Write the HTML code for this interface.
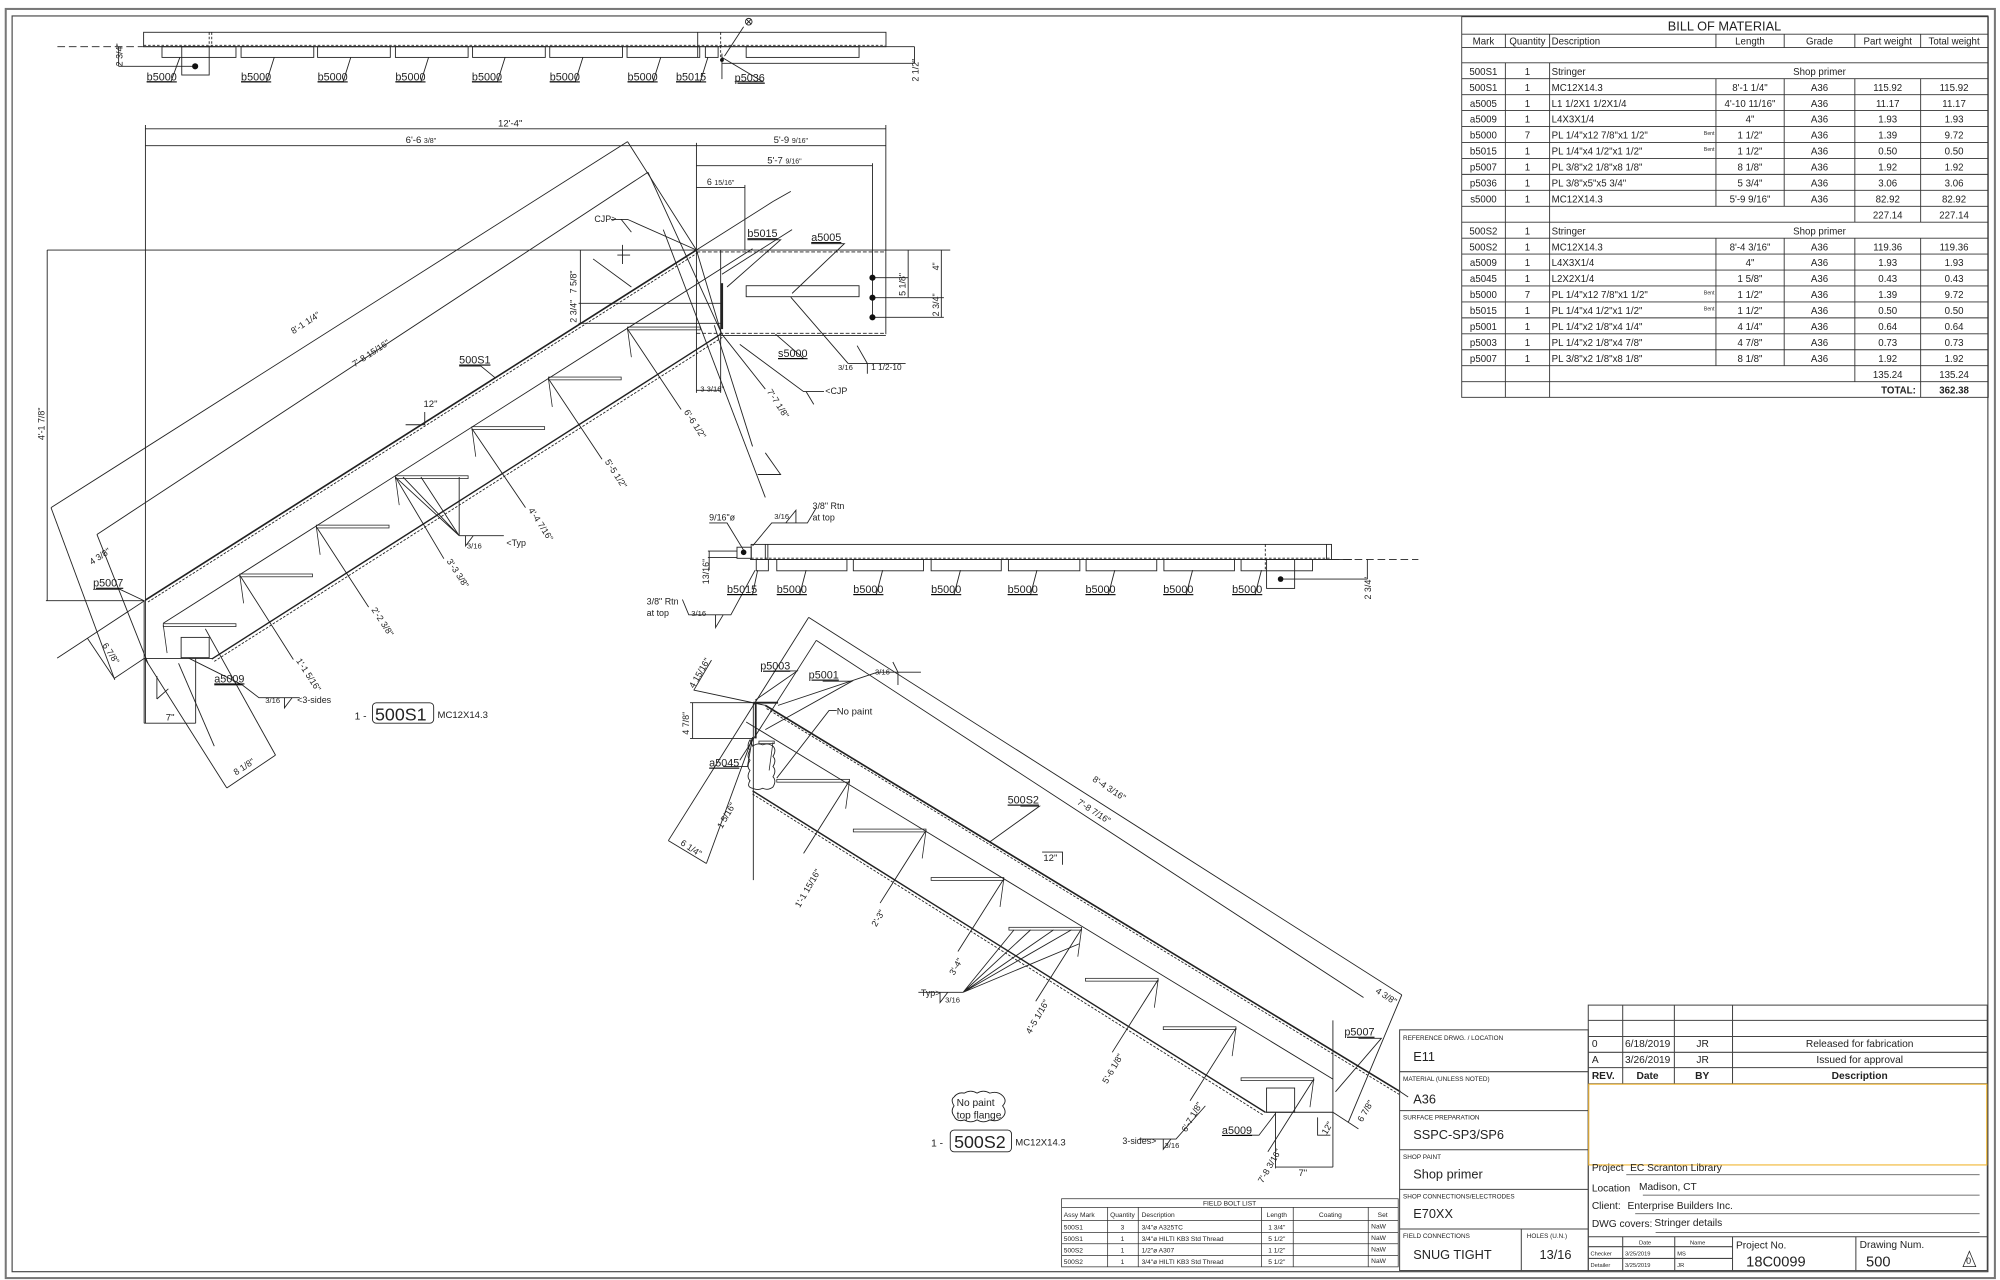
<!DOCTYPE html>
<html><head><meta charset="utf-8"><style>
html,body{margin:0;padding:0;background:#fff;}
svg{display:block;}
text{font-family:"Liberation Sans",Arial,sans-serif;fill:#222;}
</style></head><body>
<svg width="2000" height="1280" viewBox="0 0 1568 1003.5" xmlns="http://www.w3.org/2000/svg">
<rect x="0" y="0" width="1568" height="1003.5" fill="#fff"/>
<!-- borders -->
<rect x="4.5" y="7" width="1559.5" height="995" fill="none" stroke="#777" stroke-width="1.6"/>
<rect x="9.5" y="12.5" width="1549" height="984.5" fill="none" stroke="#444" stroke-width="0.9"/>

<g stroke="#222" stroke-width="0.7" fill="none">
<!-- ===== TOP STRIP ===== -->
<rect x="112.6" y="25.3" width="582" height="11.3"/>
<line x1="45" y1="36.6" x2="112" y2="36.6" stroke-dasharray="6,3"/>
<line x1="112" y1="36.6" x2="717" y2="36.6"/>
<line x1="112.6" y1="35.5" x2="694" y2="35.5" stroke-dasharray="2,1.5"/>
<line x1="164" y1="25.3" x2="164" y2="36.6" stroke-dasharray="2,1.5"/>
<line x1="166" y1="25.3" x2="166" y2="36.6" stroke-dasharray="2,1.5"/>
<line x1="547" y1="25.3" x2="547" y2="45"/>
<line x1="565" y1="25.3" x2="565" y2="45" stroke-dasharray="2,1.5"/>
<rect x="127" y="36.6" width="58" height="8.4"/><rect x="189" y="36.6" width="57" height="8.4"/>
<rect x="249" y="36.6" width="57" height="8.4"/><rect x="310" y="36.6" width="57" height="8.4"/>
<rect x="370.5" y="36.6" width="57" height="8.4"/><rect x="431" y="36.6" width="57" height="8.4"/>
<rect x="491.6" y="36.6" width="57" height="8.4"/><rect x="553" y="36.6" width="10" height="8.4"/>
<rect x="585" y="36.6" width="88.5" height="8.4"/>
<rect x="142.5" y="36.6" width="21.5" height="22.2"/>
<line x1="93" y1="36.6" x2="93" y2="52"/><line x1="93" y1="52" x2="153" y2="52"/>
<line x1="566" y1="49.6" x2="717" y2="49.6"/><line x1="717" y1="36.6" x2="717" y2="49.6"/>
<line x1="566" y1="42" x2="566" y2="62"/>
<circle cx="587" cy="17" r="2.6"/><line x1="585" y1="15" x2="589" y2="19"/><line x1="589" y1="15" x2="585" y2="19"/>
<line x1="583" y1="21" x2="568" y2="44"/>
<!-- leaders -->
<path d="M115,64 H134 L141,45"/><path d="M189,64 H209 L215,45"/><path d="M249,64 H269 L275,45"/>
<path d="M310,64 H330 L336,45"/><path d="M370,64 H390 L396,45"/><path d="M431,64 H451 L457,45"/>
<path d="M492,64 H512 L518,45"/><path d="M530,64 H549 L555,45"/><path d="M576,64 H598 L566,45"/>

<!-- ===== 500S1 main view ===== -->
<line x1="114" y1="101" x2="694.5" y2="101"/>
<line x1="114" y1="114.2" x2="694.5" y2="114.2"/>
<line x1="546" y1="129.9" x2="684" y2="129.9"/>
<line x1="546" y1="147" x2="584" y2="147"/>
<line x1="114" y1="98" x2="114" y2="567"/>
<line x1="694.5" y1="98" x2="694.5" y2="196"/>
<line x1="546" y1="112" x2="546" y2="308"/>
<line x1="684" y1="128" x2="684" y2="249"/>
<line x1="584" y1="145" x2="584" y2="196"/>
<line x1="565" y1="196" x2="565" y2="308"/>
<line x1="546" y1="306" x2="565" y2="306"/>
<line x1="37" y1="196" x2="745" y2="196"/>
<line x1="37" y1="196" x2="37" y2="471"/>
<line x1="36" y1="470.9" x2="113" y2="470.9"/>
<line x1="546" y1="197.5" x2="694.5" y2="197.5" stroke-dasharray="3,1.5"/>
<line x1="546" y1="261.3" x2="694.5" y2="261.3" stroke-dasharray="3,1.5"/>
<line x1="565" y1="263" x2="694.5" y2="263"/>
<line x1="694.5" y1="196" x2="694.5" y2="262"/>
<rect x="585" y="224" width="88.5" height="8.6"/>
<line x1="684" y1="217.7" x2="712" y2="217.7"/><line x1="684" y1="233.4" x2="740" y2="233.4"/><line x1="684" y1="248.8" x2="740" y2="248.8"/>
<line x1="712" y1="196" x2="712" y2="233"/><line x1="738" y1="196" x2="738" y2="249"/>
<line x1="453.6" y1="237.8" x2="565" y2="237.8"/><line x1="453.6" y1="253.5" x2="565" y2="253.5"/>
<line x1="455" y1="196" x2="455" y2="253.5"/>
<!-- stringer lines -->
<line x1="40" y1="398" x2="492" y2="111"/>
<line x1="76" y1="419" x2="508" y2="135"/>
<line x1="492" y1="111" x2="546" y2="196"/>
<line x1="508" y1="135" x2="566" y2="262"/>
<line x1="114" y1="470.4" x2="546" y2="196" stroke-width="1.3"/>
<line x1="116" y1="472" x2="548" y2="197.5" stroke-dasharray="2,1.2"/>
<line x1="128" y1="488.6" x2="590" y2="195"/>
<line x1="166" y1="516.7" x2="565" y2="262" stroke-width="1.1"/>
<line x1="168" y1="518.5" x2="567" y2="264" stroke-dasharray="2,1.2"/>
<line x1="44.8" y1="516" x2="113.4" y2="470.9"/>
<line x1="546" y1="196" x2="606" y2="158"/>
<line x1="606" y1="158" x2="620" y2="150"/>
<line x1="566" y1="215" x2="621" y2="180"/>
<line x1="40" y1="398" x2="90" y2="533"/>
<line x1="76" y1="419" x2="116" y2="520"/>
<line x1="68.6" y1="500.5" x2="89.6" y2="531.8"/>
<line x1="89.6" y1="531.8" x2="113.4" y2="516"/>
<line x1="113.4" y1="516" x2="177.8" y2="617.8"/>
<line x1="161" y1="493" x2="216" y2="592"/>
<line x1="177.8" y1="617.8" x2="216" y2="592"/>
<!-- end plate -->
<line x1="546" y1="196" x2="565.7" y2="262"/>
<line x1="600" y1="390" x2="520" y2="180"/>
<line x1="560" y1="255" x2="590" y2="350"/>
<line x1="566" y1="222" x2="566" y2="258" stroke-width="1.8"/>
<!-- bottom -->
<line x1="113" y1="470.9" x2="113" y2="567"/>
<line x1="113" y1="516.2" x2="166.6" y2="516.2"/>
<rect x="142" y="499.7" width="22" height="15.9"/>
<line x1="113" y1="567" x2="153.4" y2="567"/>
<line x1="153.4" y1="516" x2="153.4" y2="567"/>
<line x1="123" y1="530" x2="123" y2="548"/><line x1="123" y1="548" x2="132" y2="540"/>
<line x1="140" y1="520" x2="168" y2="585"/>
<!-- treads 500S1 -->
<g stroke-width="0.6">
<rect x="128" y="489" width="57" height="2.2"/><rect x="188" y="450" width="57" height="2.2"/>
<rect x="248" y="411.7" width="57" height="2.2"/><rect x="310" y="373" width="57" height="2.2"/>
<rect x="370" y="334.5" width="57" height="2.2"/><rect x="430" y="295.6" width="57" height="2.2"/>
<rect x="492" y="256.4" width="57" height="2.2"/>
<path d="M128,490 l3,22 M188,451 l3,22 M248,413 l3,22 M310,374 l3,22 M370,336 l3,22 M430,297 l3,22 M492,258 l3,22"/>
</g>
<path d="M188,451 L230,517 M248,413 L289,476 M310,374 L348,438 M370,336 L412,398 M430,297 L472,360 M492,258 L534,321 M566,262 L600,305"/>
<path d="M310,374 L360,420 M316,374 L360,420 M330,374 L360,420 M360,374 L360,420 M360,420 H395"/>
<path d="M365,420 l0,8 l6,-8"/>
<!-- slope triangle -->
<path d="M318,333 H333 V323"/>
<path d="M600,355 L612,372 L594,372"/>
<!-- leaders/welds 500S1 -->
<path d="M360,287 H377 L388,296"/>
<path d="M73,462 H94 L113,471"/>
<path d="M168,537 H190 L148,516"/>
<path d="M190,537 L203,547 H235"/><path d="M223,547 v8 l6,-8"/>
<path d="M479,172 H492 L546,196"/><path d="M487,172 l8,10"/>
<path d="M586,188 H612 L570,225"/>
<path d="M636,191 H662 L621,230"/>
<path d="M610,281 H630 L608,262"/>
<path d="M665,285 H710 M680,285 l-8,-14 l8,14 M680,285 v8 M665,285 L620,233"/>
<path d="M646,307 H630 L580,270"/><path d="M632,307 l6,10"/>
<path d="M465,203 l30,22 M488,192 v15 M484,200 h10"/>
<!-- 500S1 tag -->
<rect x="292" y="551" width="48" height="16" rx="3"/>

<!-- ===== middle elevation ===== -->
<rect x="588.9" y="426.8" width="455" height="11.8"/>
<line x1="588.9" y1="437.6" x2="1044" y2="437.6" stroke-dasharray="2,1.5"/>
<line x1="1044" y1="438.6" x2="1112" y2="438.6" stroke-dasharray="6,3"/>
<line x1="588" y1="438.6" x2="1060" y2="438.6"/>
<line x1="600" y1="426.8" x2="600" y2="438.6"/><line x1="602" y1="426.8" x2="602" y2="438.6"/>
<line x1="992" y1="426.8" x2="992" y2="447" stroke-dasharray="2,1.5"/>
<line x1="1040" y1="426.8" x2="1040" y2="438.6"/>
<rect x="577.8" y="429" width="11.2" height="8.7"/>
<rect x="592.9" y="438.6" width="9.5" height="8.9"/><rect x="609" y="438.6" width="55" height="8.9"/>
<rect x="669" y="438.6" width="55" height="8.9"/><rect x="730" y="438.6" width="55" height="8.9"/>
<rect x="790.6" y="438.6" width="56" height="8.9"/><rect x="851.5" y="438.6" width="55.4" height="8.9"/>
<rect x="912.5" y="438.6" width="55.3" height="8.9"/><rect x="973" y="438.6" width="56" height="8.9"/>
<rect x="993" y="438.6" width="22" height="22.7"/>
<line x1="1004" y1="454" x2="1072" y2="454"/><line x1="1072" y1="438.6" x2="1072" y2="454"/>
<line x1="555" y1="437" x2="578" y2="437"/><line x1="555" y1="432" x2="578" y2="432"/><line x1="556" y1="432" x2="556" y2="447"/>
<path d="M556,410 H570 L584,433"/>
<path d="M640,398 L633,410 H605 L590,428"/><path d="M624,410 v-10 l-8,10"/>
<path d="M535,470 L540,482 H573 L592,447"/><path d="M561,482 v10 l6,-10"/>
<path d="M570,466 H590 L594,447 M609,466 H627 L632,447 M669,466 H687 L692,447 M730,466 H748 L753,447 M790,466 H808 L813,447 M851,466 H869 L874,447 M912,466 H930 L935,447 M966,466 H984 L989,447"/>

<!-- ===== 500S2 view ===== -->
<line x1="634" y1="484" x2="1099" y2="780"/>
<line x1="640" y1="502" x2="1069" y2="782"/>
<line x1="600" y1="553" x2="1098" y2="856" stroke-width="1.3"/>
<line x1="601" y1="555.5" x2="1097" y2="858" stroke-dasharray="2,1.2"/>
<line x1="585" y1="566" x2="1045" y2="846"/>
<line x1="590" y1="620" x2="992" y2="872" stroke-width="1.1"/>
<line x1="590" y1="622.5" x2="990" y2="874" stroke-dasharray="2,1.2"/>
<line x1="634" y1="484" x2="524" y2="659"/>
<line x1="640" y1="502" x2="580" y2="596"/>
<line x1="557.8" y1="517.5" x2="544" y2="541"/>
<line x1="543.8" y1="541" x2="600" y2="553"/>
<line x1="524" y1="659" x2="553.8" y2="677"/>
<line x1="590" y1="578" x2="553.8" y2="677"/>
<line x1="541" y1="550.9" x2="590.6" y2="550.9"/><line x1="541" y1="578.9" x2="590.6" y2="578.9"/>
<line x1="543" y1="550.9" x2="543" y2="578.9"/>
<line x1="590.6" y1="550.9" x2="590.6" y2="690"/>
<line x1="592.5" y1="550.9" x2="592.5" y2="578.9" stroke-width="1.4"/>
<line x1="590.6" y1="550.9" x2="610" y2="550.9" stroke-width="1.4"/>
<path d="M588,580 q-3,5 0,8 q-3,5 0,8 q-3,5 0,8 q-3,5 0,8 q-3,5 2,6 q4,2 8,0 q4,2 8,-1 q3,-5 0,-8 q3,-5 0,-8 q3,-5 0,-8 q3,-5 0,-8 q-4,-3 -8,-1 q-4,-2 -8,1z"/>
<!-- treads 500S2 -->
<g stroke-width="0.6">
<rect x="609" y="611" width="57" height="2.2"/><rect x="669" y="650" width="57" height="2.2"/>
<rect x="730" y="688" width="57" height="2.2"/><rect x="791" y="727" width="57" height="2.2"/>
<rect x="851" y="767" width="57" height="2.2"/><rect x="912" y="805" width="57" height="2.2"/>
<rect x="973" y="845" width="57" height="2.2"/><rect x="595" y="581" width="12" height="2"/>
<path d="M666,612 l-3,22 M726,651 l-3,22 M787,689 l-3,22 M848,728 l-3,22 M908,768 l-3,22 M969,806 l-3,22 M1030,846 l-3,22 M606,582 l-3,22"/>
</g>
<path d="M666,612 L630,669 M726,651 L690,708 M787,689 L751,746 M848,728 L812,785 M908,768 L872,825 M969,806 L933,863 M1030,846 L994,903"/>
<path d="M755,778 L795,729 M755,778 L808,729 M755,778 L826,729 M755,778 L840,729 M755,778 L846,740 M755,778 H720"/>
<path d="M737,778 v8 l6,-8"/>
<!-- end 500S2 -->
<line x1="1045" y1="800" x2="1045" y2="915"/>
<line x1="992" y1="872" x2="1045" y2="872"/>
<rect x="993" y="853" width="22" height="19"/>
<line x1="1000" y1="872" x2="1000" y2="916"/>
<line x1="1000" y1="915" x2="1045" y2="915"/>
<line x1="1099" y1="780" x2="1057" y2="880"/>
<line x1="1045" y1="872" x2="1065" y2="885"/>
<line x1="1098" y1="856" x2="1104" y2="860"/>
<path d="M1033,876 v14 h10"/>
<path d="M800,632 H815 L776,660"/>
<path d="M817,668 H833 V678"/>
<path d="M606,526 H625 L592,549"/>
<path d="M645,534 H668 L600,572"/>
<path d="M688,527 H722 M704,527 L700,519 L704,527 M704,527 v10"/>
<path d="M688,527 L610,553"/>
<path d="M656,557 H650 L609,610"/>
<path d="M567,601 H586 L590,578"/>
<path d="M1065,814 H1083 L1047,856"/>
<path d="M969,890 H987 L1000,873"/>
<path d="M893,893 H922 L945,867 M912,893 v8 l6,-8"/>
<path d="M748,860 q3,-4 8,-3 q5,-3 10,0 q5,-3 10,0 q6,-2 10,2 q4,4 0,8 q4,5 0,9 q-4,4 -10,2 q-5,3 -10,0 q-5,3 -10,0 q-6,2 -8,-3 q-3,-4 0,-8 q-3,-5 0,-7z"/>
<rect x="745" y="886" width="48" height="17" rx="3"/>
</g>

<!-- fills -->
<g fill="#111">
<circle cx="153" cy="52" r="2.4"/><circle cx="684" cy="217.7" r="2.4"/><circle cx="684" cy="233.4" r="2.4"/><circle cx="684" cy="248.8" r="2.4"/>
<circle cx="583" cy="433" r="2.2"/><circle cx="1004" cy="454" r="2.2"/><circle cx="566" cy="47" r="1.5"/>
</g>

<!-- labels -->
<g font-size="8.5">
<g text-decoration="underline">
<text x="115" y="63">b5000</text><text x="189" y="63">b5000</text><text x="249" y="63">b5000</text><text x="310" y="63">b5000</text>
<text x="370" y="63">b5000</text><text x="431" y="63">b5000</text><text x="492" y="63">b5000</text><text x="530" y="63">b5015</text><text x="576" y="64">p5036</text>
<text x="360" y="285">500S1</text><text x="586" y="186">b5015</text><text x="636" y="189">a5005</text><text x="610" y="280">s5000</text>
<text x="73" y="460">p5007</text><text x="168" y="535">a5009</text>
<text x="570" y="465">b5015</text><text x="609" y="465">b5000</text><text x="669" y="465">b5000</text><text x="730" y="465">b5000</text><text x="790" y="465">b5000</text><text x="851" y="465">b5000</text><text x="912" y="465">b5000</text><text x="966" y="465">b5000</text>
<text x="596" y="525">p5003</text><text x="634" y="532">p5001</text><text x="556" y="601">a5045</text><text x="790" y="630">500S2</text>
<text x="1054" y="812">p5007</text><text x="958" y="889">a5009</text>
</g>
<text x="400" y="99" font-size="7.5" text-anchor="middle">12'-4"</text>
<text x="330" y="112" font-size="7.5" text-anchor="middle">6'-6 <tspan font-size="5.5">3/8"</tspan></text>
<text x="620" y="112" font-size="7.5" text-anchor="middle">5'-9 <tspan font-size="5.5">9/16"</tspan></text>
<text x="615" y="128" font-size="7.5" text-anchor="middle">5'-7 <tspan font-size="5.5">9/16"</tspan></text>
<text x="565" y="145" font-size="7" text-anchor="middle">6 <tspan font-size="5.5">15/16"</tspan></text>
<text x="332" y="319" font-size="7.5">12"</text>
<text x="466" y="174" font-size="7">CJP&gt;</text><text x="647" y="309" font-size="7">&lt;CJP</text>
<text x="657" y="290" font-size="6">3/16</text><text x="683" y="290" font-size="6.5">1 1/2-10</text>
<text x="366" y="430" font-size="6">3/16</text><text x="397" y="428" font-size="7">&lt;Typ</text>
<text x="208" y="551" font-size="6">3/16</text><text x="233" y="551" font-size="7">&lt;3-sides</text>
<text x="130" y="565" font-size="7.5">7"</text>
<text x="278" y="564" font-size="8">1 -</text><text x="294" y="565" font-size="14">500S1</text><text x="343" y="563" font-size="7.5">MC12X14.3</text>
<text x="556" y="408" font-size="7">9/16"ø</text><text x="607" y="407" font-size="6">3/16</text>
<text x="637" y="399" font-size="7">3/8" Rtn</text><text x="637" y="408" font-size="7">at top</text>
<text x="507" y="474" font-size="7">3/8" Rtn</text><text x="507" y="483" font-size="7">at top</text><text x="542" y="483" font-size="6">3/16</text>
<text x="686" y="529" font-size="6">3/16</text><text x="656" y="560" font-size="7.5">No paint</text>
<text x="722" y="781" font-size="7">Typ&gt;</text><text x="741" y="786" font-size="6">3/16</text>
<text x="880" y="897" font-size="7">3-sides&gt;</text><text x="913" y="900" font-size="6">3/16</text>
<text x="818" y="675" font-size="7.5">12"</text><text x="1018" y="922" font-size="7.5">7"</text>
<text x="750" y="867" font-size="8">No paint</text><text x="750" y="877" font-size="8">top flange</text>
<text x="730" y="899" font-size="8">1 -</text><text x="748" y="900" font-size="14">500S2</text><text x="796" y="898" font-size="7.5">MC12X14.3</text>
<g font-size="7">
<text transform="translate(96,52) rotate(-90)">2 3/4"</text>
<text transform="translate(720,64) rotate(-90)">2 1/2"</text>
<text transform="translate(35,345) rotate(-90)">4'-1 7/8"</text>
<text transform="translate(452,230) rotate(-90)">7 5/8"</text>
<text transform="translate(452,253) rotate(-90)">2 3/4"</text>
<text transform="translate(710,232) rotate(-90)">5 1/8"</text>
<text transform="translate(736,212) rotate(-90)">4"</text>
<text transform="translate(736,248) rotate(-90)">2 3/4"</text>
<text x="549" y="307" font-size="6">3 3/16"</text>
<text transform="translate(230,262) rotate(-33)">8'-1 1/4"</text>
<text transform="translate(278,288) rotate(-33)">7'-8 15/16"</text>
<text transform="translate(72,443) rotate(-33)">4 3/8"</text>
<text transform="translate(80,506) rotate(57)">6 7/8"</text>
<text transform="translate(185,608) rotate(-33)">8 1/8"</text>
<text transform="translate(232,518) rotate(57)">1'-1 5/16"</text>
<text transform="translate(291,478) rotate(57)">2'-2 3/8"</text>
<text transform="translate(350,440) rotate(57)">3'-3 3/8"</text>
<text transform="translate(414,400) rotate(57)">4'-4 7/16"</text>
<text transform="translate(474,362) rotate(57)">5'-5 1/2"</text>
<text transform="translate(536,323) rotate(57)">6'-6 1/2"</text>
<text transform="translate(601,307) rotate(57)">7'-7 1/8"</text>
<text transform="translate(556,458) rotate(-90)">13/16"</text>
<text transform="translate(1075,470) rotate(-90)">2 3/4"</text>
<text transform="translate(856,612) rotate(33)">8'-4 3/16"</text>
<text transform="translate(844,630) rotate(33)">7'-8 7/16"</text>
<text transform="translate(544,540) rotate(-60)">4 15/16"</text>
<text transform="translate(540,576) rotate(-90)">4 7/8"</text>
<text transform="translate(533,662) rotate(33)">6 1/4"</text>
<text transform="translate(566,650) rotate(-60)">1 5/16"</text>
<text transform="translate(627,712) rotate(-60)">1'-1 15/16"</text>
<text transform="translate(687,727) rotate(-60)">2'-3"</text>
<text transform="translate(748,765) rotate(-60)">3'-4"</text>
<text transform="translate(808,811) rotate(-60)">4'-5 1/16"</text>
<text transform="translate(868,850) rotate(-60)">5'-6 1/8"</text>
<text transform="translate(930,888) rotate(-60)">6'-7 1/8"</text>
<text transform="translate(990,928) rotate(-60)">7'-8 3/16"</text>
<text transform="translate(1078,778) rotate(33)">4 3/8"</text>
<text transform="translate(1068,880) rotate(-60)">6 7/8"</text>
<text transform="translate(1040,890) rotate(-60)">12"</text>
</g>
</g>

<!-- ===== BILL OF MATERIAL ===== -->
<g stroke="#333" stroke-width="0.7" fill="none">
<rect x="1146" y="13.1" width="412.8" height="298.4"/>
<line x1="1146" y1="26.8" x2="1558.8" y2="26.8"/>
<line x1="1146" y1="37.3" x2="1558.8" y2="37.3"/>
<line x1="1146" y1="49.2" x2="1558.8" y2="49.2"/>
<path d="M1146,61.7H1558.8M1146,74.2H1558.8M1146,86.7H1558.8M1146,99.2H1558.8M1146,111.7H1558.8M1146,124.2H1558.8M1146,136.7H1558.8M1146,149.2H1558.8M1146,161.7H1558.8M1146,174.2H1558.8M1146,186.7H1558.8M1146,199.2H1558.8M1146,211.7H1558.8M1146,224.2H1558.8M1146,236.7H1558.8M1146,249.2H1558.8M1146,261.7H1558.8M1146,274.2H1558.8M1146,286.7H1558.8M1146,299.2H1558.8"/>
<path d="M1180.2,26.8V37.3M1214.9,26.8V37.3M1345.3,26.8V37.3M1398.8,26.8V37.3M1454.2,26.8V37.3M1505.8,26.8V37.3"/>
<path d="M1180.2,49.2V311.5M1214.9,49.2V311.5"/>
<path d="M1345.3,61.7V161.7M1398.8,61.7V161.7M1454.2,61.7V174.2M1505.8,61.7V174.2"/>
<path d="M1345.3,186.7V286.7M1398.8,186.7V286.7M1454.2,186.7V299.2M1505.8,186.7V311.5"/>
</g>
<g font-size="7.6" text-anchor="middle">
<text x="1352" y="24" font-size="10">BILL OF MATERIAL</text>
<text x="1163" y="35">Mark</text><text x="1197.5" y="35">Quantity</text><text x="1216.5" y="35" text-anchor="start">Description</text>
<text x="1372" y="35">Length</text><text x="1426.5" y="35">Grade</text><text x="1480" y="35">Part weight</text><text x="1532" y="35">Total weight</text>
<g id="r">
<text x="1163" y="58.7">500S1</text><text x="1197.5" y="58.7">1</text><text x="1216.5" y="58.7" text-anchor="start">Stringer</text><text x="1426.5" y="58.7">Shop primer</text>
<text x="1163" y="71.2">500S1</text><text x="1197.5" y="71.2">1</text><text x="1216.5" y="71.2" text-anchor="start">MC12X14.3</text><text x="1372" y="71.2">8'-1 1/4"</text><text x="1426.5" y="71.2">A36</text><text x="1480" y="71.2">115.92</text><text x="1532" y="71.2">115.92</text>
<text x="1163" y="83.7">a5005</text><text x="1197.5" y="83.7">1</text><text x="1216.5" y="83.7" text-anchor="start">L1 1/2X1 1/2X1/4</text><text x="1372" y="83.7">4'-10 11/16"</text><text x="1426.5" y="83.7">A36</text><text x="1480" y="83.7">11.17</text><text x="1532" y="83.7">11.17</text>
<text x="1163" y="96.2">a5009</text><text x="1197.5" y="96.2">1</text><text x="1216.5" y="96.2" text-anchor="start">L4X3X1/4</text><text x="1372" y="96.2">4"</text><text x="1426.5" y="96.2">A36</text><text x="1480" y="96.2">1.93</text><text x="1532" y="96.2">1.93</text>
<text x="1163" y="108.7">b5000</text><text x="1197.5" y="108.7">7</text><text x="1216.5" y="108.7" text-anchor="start">PL 1/4"x12 7/8"x1 1/2"</text><text x="1340" y="106" font-size="4">Bent</text><text x="1372" y="108.7">1 1/2"</text><text x="1426.5" y="108.7">A36</text><text x="1480" y="108.7">1.39</text><text x="1532" y="108.7">9.72</text>
<text x="1163" y="121.2">b5015</text><text x="1197.5" y="121.2">1</text><text x="1216.5" y="121.2" text-anchor="start">PL 1/4"x4 1/2"x1 1/2"</text><text x="1340" y="118.5" font-size="4">Bent</text><text x="1372" y="121.2">1 1/2"</text><text x="1426.5" y="121.2">A36</text><text x="1480" y="121.2">0.50</text><text x="1532" y="121.2">0.50</text>
<text x="1163" y="133.7">p5007</text><text x="1197.5" y="133.7">1</text><text x="1216.5" y="133.7" text-anchor="start">PL 3/8"x2 1/8"x8 1/8"</text><text x="1372" y="133.7">8 1/8"</text><text x="1426.5" y="133.7">A36</text><text x="1480" y="133.7">1.92</text><text x="1532" y="133.7">1.92</text>
<text x="1163" y="146.2">p5036</text><text x="1197.5" y="146.2">1</text><text x="1216.5" y="146.2" text-anchor="start">PL 3/8"x5"x5 3/4"</text><text x="1372" y="146.2">5 3/4"</text><text x="1426.5" y="146.2">A36</text><text x="1480" y="146.2">3.06</text><text x="1532" y="146.2">3.06</text>
<text x="1163" y="158.7">s5000</text><text x="1197.5" y="158.7">1</text><text x="1216.5" y="158.7" text-anchor="start">MC12X14.3</text><text x="1372" y="158.7">5'-9 9/16"</text><text x="1426.5" y="158.7">A36</text><text x="1480" y="158.7">82.92</text><text x="1532" y="158.7">82.92</text>
<text x="1480" y="171.2">227.14</text><text x="1532" y="171.2">227.14</text>
<text x="1163" y="183.7">500S2</text><text x="1197.5" y="183.7">1</text><text x="1216.5" y="183.7" text-anchor="start">Stringer</text><text x="1426.5" y="183.7">Shop primer</text>
<text x="1163" y="196.2">500S2</text><text x="1197.5" y="196.2">1</text><text x="1216.5" y="196.2" text-anchor="start">MC12X14.3</text><text x="1372" y="196.2">8'-4 3/16"</text><text x="1426.5" y="196.2">A36</text><text x="1480" y="196.2">119.36</text><text x="1532" y="196.2">119.36</text>
<text x="1163" y="208.7">a5009</text><text x="1197.5" y="208.7">1</text><text x="1216.5" y="208.7" text-anchor="start">L4X3X1/4</text><text x="1372" y="208.7">4"</text><text x="1426.5" y="208.7">A36</text><text x="1480" y="208.7">1.93</text><text x="1532" y="208.7">1.93</text>
<text x="1163" y="221.2">a5045</text><text x="1197.5" y="221.2">1</text><text x="1216.5" y="221.2" text-anchor="start">L2X2X1/4</text><text x="1372" y="221.2">1 5/8"</text><text x="1426.5" y="221.2">A36</text><text x="1480" y="221.2">0.43</text><text x="1532" y="221.2">0.43</text>
<text x="1163" y="233.7">b5000</text><text x="1197.5" y="233.7">7</text><text x="1216.5" y="233.7" text-anchor="start">PL 1/4"x12 7/8"x1 1/2"</text><text x="1340" y="231" font-size="4">Bent</text><text x="1372" y="233.7">1 1/2"</text><text x="1426.5" y="233.7">A36</text><text x="1480" y="233.7">1.39</text><text x="1532" y="233.7">9.72</text>
<text x="1163" y="246.2">b5015</text><text x="1197.5" y="246.2">1</text><text x="1216.5" y="246.2" text-anchor="start">PL 1/4"x4 1/2"x1 1/2"</text><text x="1340" y="243.5" font-size="4">Bent</text><text x="1372" y="246.2">1 1/2"</text><text x="1426.5" y="246.2">A36</text><text x="1480" y="246.2">0.50</text><text x="1532" y="246.2">0.50</text>
<text x="1163" y="258.7">p5001</text><text x="1197.5" y="258.7">1</text><text x="1216.5" y="258.7" text-anchor="start">PL 1/4"x2 1/8"x4 1/4"</text><text x="1372" y="258.7">4 1/4"</text><text x="1426.5" y="258.7">A36</text><text x="1480" y="258.7">0.64</text><text x="1532" y="258.7">0.64</text>
<text x="1163" y="271.2">p5003</text><text x="1197.5" y="271.2">1</text><text x="1216.5" y="271.2" text-anchor="start">PL 1/4"x2 1/8"x4 7/8"</text><text x="1372" y="271.2">4 7/8"</text><text x="1426.5" y="271.2">A36</text><text x="1480" y="271.2">0.73</text><text x="1532" y="271.2">0.73</text>
<text x="1163" y="283.7">p5007</text><text x="1197.5" y="283.7">1</text><text x="1216.5" y="283.7" text-anchor="start">PL 3/8"x2 1/8"x8 1/8"</text><text x="1372" y="283.7">8 1/8"</text><text x="1426.5" y="283.7">A36</text><text x="1480" y="283.7">1.92</text><text x="1532" y="283.7">1.92</text>
<text x="1480" y="296.2">135.24</text><text x="1532" y="296.2">135.24</text>
<text x="1502" y="308.5" text-anchor="end" font-weight="bold">TOTAL:</text><text x="1532" y="308.5" font-weight="bold">362.38</text>
</g>
</g>

<!-- ===== FIELD BOLT LIST ===== -->
<g stroke="#333" stroke-width="0.6" fill="none">
<rect x="832.3" y="939.8" width="263.9" height="53.4"/>
<path d="M832.3,946.6H1096.2M832.3,957H1096.2M832.3,966.4H1096.2M832.3,975.1H1096.2M832.3,984.2H1096.2"/>
<path d="M868.4,946.6V993.2M892.4,946.6V993.2M989.1,946.6V993.2M1013.9,946.6V993.2M1072.7,946.6V993.2"/>
</g>
<g font-size="5.2">
<text x="964" y="945.3" text-anchor="middle">FIELD BOLT LIST</text>
<text x="834" y="954">Assy Mark</text><text x="880" y="954" text-anchor="middle">Quantity</text><text x="895" y="954">Description</text><text x="1001" y="954" text-anchor="middle">Length</text><text x="1043" y="954" text-anchor="middle">Coating</text><text x="1084" y="954" text-anchor="middle">Set</text>
<text x="834" y="964">500S1</text><text x="880" y="964" text-anchor="middle">3</text><text x="895" y="964">3/4"ø A325TC</text><text x="1001" y="964" text-anchor="middle">1 3/4"</text><text x="1075" y="963">NaW</text>
<text x="834" y="973">500S1</text><text x="880" y="973" text-anchor="middle">1</text><text x="895" y="973">3/4"ø HILTI KB3 Std Thread</text><text x="1001" y="973" text-anchor="middle">5 1/2"</text><text x="1075" y="972">NaW</text>
<text x="834" y="982">500S2</text><text x="880" y="982" text-anchor="middle">1</text><text x="895" y="982">1/2"ø A307</text><text x="1001" y="982" text-anchor="middle">1 1/2"</text><text x="1075" y="981">NaW</text>
<text x="834" y="991">500S2</text><text x="880" y="991" text-anchor="middle">1</text><text x="895" y="991">3/4"ø HILTI KB3 Std Thread</text><text x="1001" y="991" text-anchor="middle">5 1/2"</text><text x="1075" y="990">NaW</text>
</g>

<!-- ===== TITLE BLOCK ===== -->
<g stroke="#444" stroke-width="0.8" fill="none">
<rect x="1097.3" y="807.4" width="147.9" height="188.7"/>
<path d="M1097.3,840.2H1245.2M1097.3,870.7H1245.2M1097.3,901.4H1245.2M1097.3,932.5H1245.2M1097.3,963.5H1245.2M1192.7,963.5V996.1"/>
<rect x="1245.2" y="788" width="312.8" height="208.1"/>
<path d="M1245.2,800H1558M1245.2,812.6H1558M1245.2,825H1558M1245.2,837H1558M1245.2,849.7H1558"/>
<path d="M1272.2,788V849.7M1312.7,788V849.7M1358.3,788V849.7"/>
<path d="M1275,921H1552M1288,937H1552M1282,951.6H1552M1298,966.4H1552" stroke-width="0.6"/>
<path d="M1245.2,969.6H1558M1272.2,969.6V996.1M1313,969.6V996.1M1358.3,969.6V996.1M1455,969.6V996.1M1245.2,977.4H1358.3M1245.2,986.6H1358.3"/>
</g>
<rect x="1245.6" y="850" width="312" height="63.3" fill="none" stroke="#f0b838" stroke-width="0.9"/>
<path d="M1539,993 l5,-12 l5,12z" fill="none" stroke="#222" stroke-width="0.6"/>
<g font-size="5">
<text x="1100" y="815.5">REFERENCE DRWG. / LOCATION</text>
<text x="1100" y="847.5">MATERIAL (UNLESS NOTED)</text>
<text x="1100" y="877.5">SURFACE PREPARATION</text>
<text x="1100" y="908.5">SHOP PAINT</text>
<text x="1100" y="939.5">SHOP CONNECTIONS/ELECTRODES</text>
<text x="1100" y="970.5">FIELD CONNECTIONS</text>
<text x="1197" y="970.5">HOLES (U.N.)</text>
</g>
<g font-size="10">
<text x="1108" y="832">E11</text><text x="1108" y="865">A36</text><text x="1108" y="893">SSPC-SP3/SP6</text>
<text x="1108" y="924">Shop primer</text><text x="1108" y="955">E70XX</text><text x="1108" y="987">SNUG TIGHT</text><text x="1207" y="987">13/16</text>
</g>
<g font-size="8">
<text x="1248" y="821">0</text><text x="1274" y="821">6/18/2019</text><text x="1330" y="821">JR</text><text x="1458" y="821" text-anchor="middle">Released for fabrication</text>
<text x="1248" y="833.5">A</text><text x="1274" y="833.5">3/26/2019</text><text x="1330" y="833.5">JR</text><text x="1458" y="833.5" text-anchor="middle">Issued for approval</text>
<g font-weight="bold"><text x="1248" y="846">REV.</text><text x="1283" y="846">Date</text><text x="1329" y="846">BY</text><text x="1458" y="846" text-anchor="middle">Description</text></g>
<text x="1248" y="918">Project</text><text x="1278" y="918">EC Scranton Library</text>
<text x="1248" y="934">Location</text><text x="1285" y="933">Madison, CT</text>
<text x="1248" y="948">Client:</text><text x="1276" y="948">Enterprise Builders Inc.</text>
<text x="1248" y="962">DWG covers:</text><text x="1297" y="961">Stringer details</text>
<text x="1361" y="979">Project No.</text><text x="1458" y="978.5">Drawing Num.</text>
</g>
<text x="1369" y="993" font-size="11.5">18C0099</text>
<text x="1463" y="993" font-size="11.5">500</text>
<text x="1541.5" y="991" font-size="7">0</text>
<g font-size="4.5">
<text x="1285" y="975.5">Date</text><text x="1325" y="975.5">Name</text>
<text x="1247" y="984.5">Checker</text><text x="1274" y="984.5">3/25/2019</text><text x="1315" y="984.5">MS</text>
<text x="1247" y="993.5">Detailer</text><text x="1274" y="993.5">3/25/2019</text><text x="1315" y="993.5">JR</text>
</g>
</svg>
</body></html>
